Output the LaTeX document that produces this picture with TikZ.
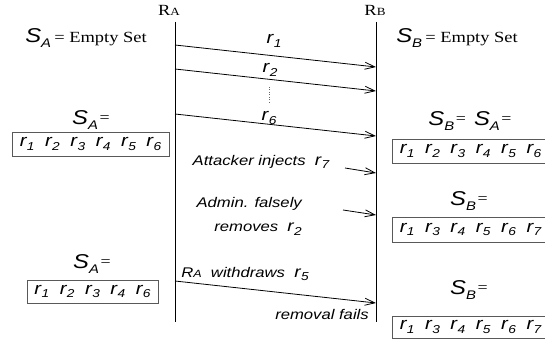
\documentclass[tikz,border=0pt]{standalone}
\usepackage{fontspec}
\setmainfont{Liberation Serif}[FakeStretch=1.19]
\setsansfont{Liberation Sans}[FakeStretch=1.19]
\usetikzlibrary{arrows.meta}
\newcommand\ri[1]{r\kern0.4pt\raisebox{-3.8pt}{\fontsize{11.5}{13}\selectfont #1}}
\newcommand\Sx[1]{{\fontsize{20}{22}\selectfont S}\raisebox{-4.5pt}{\fontsize{12.5}{14}\selectfont #1}}
\newcommand\eqs{\raisebox{2.5pt}{\rmfamily\upshape\fontsize{15}{16}\selectfont =}}
\newcommand\gap{\hspace{10.6pt}}
\begin{document}
\begin{tikzpicture}[x=1pt,y=-1pt,
  lab/.style={inner sep=0pt,font=\sffamily\itshape\fontsize{14}{16}\selectfont},
  rlab/.style={inner sep=0pt,font=\sffamily\itshape\fontsize{17}{19}\selectfont},
  setlab/.style={inner sep=0pt,font=\sffamily\itshape},
  setbox/.style={draw=black!65,line width=0.8pt,inner sep=0pt,
    font=\sffamily\itshape\fontsize{17}{19}\selectfont},
  life/.style={line width=0.8pt},
  msg/.style={line width=0.8pt,-{Straight Barb[length=10pt,width=7pt]}},
  ttl/.style={inner sep=0pt,font=\rmfamily\fontsize{15.5}{17}\selectfont}]
\useasboundingbox (0,0) rectangle (545,339);
% titles
\node[ttl] (RA) at (169,10) {R{\fontsize{11}{12}\selectfont A}};
\node[ttl] (RB) at (375,10) {R{\fontsize{11}{12}\selectfont B}};
% lifelines
\coordinate (RAt) at (175,22); \coordinate (RAb) at (175,322);
\coordinate (RBt) at (376,22); \coordinate (RBb) at (376,322);
\draw[life] (RAt) -- (RAb);
\draw[life] (RBt) -- (RBb);
% set labels
\node[setlab] (SAe) at (86,38) {\Sx{A} {\rmfamily\upshape\fontsize{15.5}{17}\selectfont = Empty Set}};
\node[setlab] (SBe) at (457,38) {\Sx{B} {\rmfamily\upshape\fontsize{15.5}{17}\selectfont = Empty Set}};
\node[setlab] (SA1) at (91,120) {\Sx{A}\,\eqs};
\node[setbox,minimum width=157pt,minimum height=24pt] (boxA1) at (90.5,144)
  {\ri1\gap\ri2\gap\ri3\gap\ri4\gap\ri5\gap\ri6};
\node[setlab] (SBA) at (470,121) {\Sx{B}\,\eqs\hspace{8pt}\Sx{A}\,\eqs};
\node[setbox,minimum width=157pt,minimum height=24pt] (boxB1) at (470.5,151)
  {\ri1\gap\ri2\gap\ri3\gap\ri4\gap\ri5\gap\ri6};
\node[setlab] (SB2) at (469,201) {\Sx{B}\,\eqs};
\node[setbox,minimum width=157pt,minimum height=25pt] (boxB2) at (470.5,229.5)
  {\ri1\gap\ri3\gap\ri4\gap\ri5\gap\ri6\gap\ri7};
\node[setlab] (SA2) at (92,264) {\Sx{A}\,\eqs};
\node[setbox,minimum width=131pt,minimum height=23pt] (boxA2) at (92.5,291.5)
  {\ri1\gap\ri2\gap\ri3\gap\ri4\gap\ri6};
\node[setlab] (SB3) at (469,290) {\Sx{B}\,\eqs};
\node[setbox,minimum width=157pt,minimum height=22pt] (boxB3) at (470.5,327)
  {\ri1\gap\ri3\gap\ri4\gap\ri5\gap\ri6\gap\ri7};
% messages
\coordinate (a1) at (175,45);  \coordinate (b1) at (376,67);
\coordinate (a2) at (175,69);  \coordinate (b2) at (376,91);
\coordinate (a6) at (175,114); \coordinate (b6) at (376,136);
\draw[msg] (a1) -- (b1);
\draw[msg] (a2) -- (b2);
\draw[msg] (a6) -- (b6);
\node[rlab] (l1) at (274,41) {\ri1};
\node[rlab] (l2) at (270,70) {\ri2};
\node[rlab] (l6) at (269,118) {\ri6};
\coordinate (dt) at (269,87); \coordinate (db) at (269,103);
\draw[dotted,line width=0.5pt,black!60] (dt) -- (db);
% attacker
\node[lab] (att) at (261,162) {Attacker injects\ \ {\fontsize{16}{18}\selectfont\ri7}};
\coordinate (at1) at (345,168); \coordinate (at2) at (376,173);
\draw[msg] (at1) -- (at2);
% admin
\node[lab,align=right,font=\sffamily\itshape\fontsize{14}{24}\selectfont,anchor=north east] (adm) at (302,197)
  {Admin. falsely\\removes\ \ {\fontsize{16}{18}\selectfont\ri2}};
\coordinate (ad1) at (343,210); \coordinate (ad2) at (376,215);
\draw[msg] (ad1) -- (ad2);
% withdraw
\node[lab] (wd) at (245,274) {R{\fontsize{10.5}{12}\selectfont A}\ \ withdraws\ \ {\fontsize{16}{18}\selectfont\ri5}};
\coordinate (w1) at (175,281); \coordinate (w2) at (376,303);
\draw[msg] (w1) -- (w2);
\node[lab] (rf) at (322,314) {removal fails};
\end{tikzpicture}
\end{document}
